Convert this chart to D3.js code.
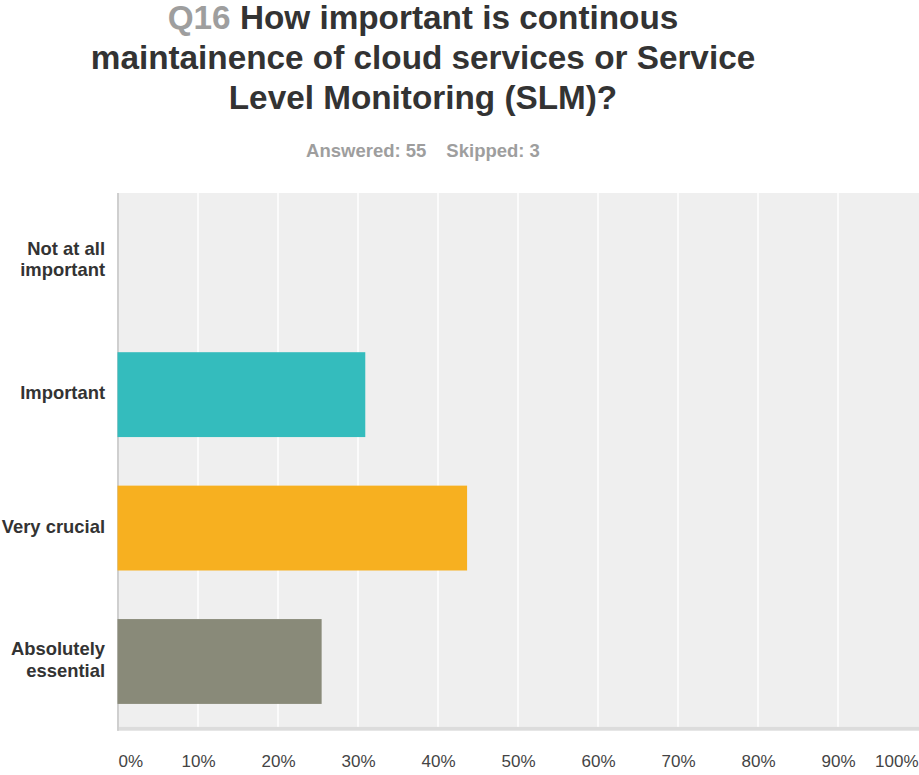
<!DOCTYPE html>
<html>
<head>
<meta charset="utf-8">
<script src="https://cdn.jsdelivr.net/npm/d3@7"></script>
<style>
  html, body { margin: 0; padding: 0; background: #fff; }
  svg { display: block; }
  text { font-family: "Liberation Sans", Arial, Helvetica, sans-serif; }
</style>
</head>
<body>
<svg id="chart" width="919" height="775"></svg>
<script>
// Survey answers (share of respondents, %)
const categories = ["Not at all important", "Important", "Very crucial", "Absolutely essential"];
const categoryLines = [["Not at all", "important"], ["Important"], ["Very crucial"], ["Absolutely", "essential"]];
const responses = [0, 17, 24, 14];
const answered = 55;
const skipped = 3;
const percents = responses.map(r => r / answered * 100);
const barColors = ["#4f8fd0", "#34bcbd", "#f7b020", "#898a79"];
const tickValues = [0, 10, 20, 30, 40, 50, 60, 70, 80, 90, 100];
const titleNumber = "Q16";
const titleLines = ["How important is continous", "maintainence of cloud services or Service", "Level Monitoring (SLM)?"];

const svg = d3.select("#chart");
const plot = { left: 118, right: 918, top: 193, bottom: 726.7 };
const cx = 423;

// Title
const title = svg.append("g").attr("font-weight", "bold").attr("font-size", 33.3).attr("text-anchor", "middle");
const t0 = title.append("text").attr("x", cx).attr("y", 28.5);
t0.append("tspan").attr("fill", "#9e9e9e").text(titleNumber + " ");
t0.append("tspan").attr("fill", "#333").text(titleLines[0]);
title.append("text").attr("x", cx).attr("y", 68.5).attr("fill", "#333").text(titleLines[1]);
title.append("text").attr("x", cx).attr("y", 108.5).attr("fill", "#333").text(titleLines[2]);

const sub = svg.append("text").attr("x", cx).attr("y", 157).attr("text-anchor", "middle")
  .attr("font-size", 18.5).attr("font-weight", "bold").attr("fill", "#9e9e9e");
sub.append("tspan").text("Answered: " + answered);
sub.append("tspan").attr("dx", 20).text("Skipped: " + skipped);

// Scales
const x = d3.scaleLinear().domain([0, 100]).range([plot.left, plot.right]);
const y = d3.scaleBand().domain(categories).range([194.5, 728.2])
  .paddingInner(0.364).paddingOuter(0.182);

// Plot background
svg.append("rect").attr("x", plot.left).attr("y", plot.top)
  .attr("width", 919 - plot.left).attr("height", plot.bottom - plot.top).attr("fill", "#efefef");

// Bottom baseline band
svg.append("rect").attr("x", plot.left - 1).attr("y", plot.bottom)
  .attr("width", 919 - plot.left + 1).attr("height", 4).attr("fill", "#dcdcdc");

// Vertical gridlines
svg.append("g").selectAll("line").data(tickValues.filter(v => v > 0 && v < 100)).join("line")
  .attr("x1", d => x(d)).attr("x2", d => x(d))
  .attr("y1", plot.top).attr("y2", plot.bottom)
  .attr("stroke", "#ffffff").attr("stroke-width", 1.5);

// Left axis line
svg.append("line").attr("x1", plot.left).attr("x2", plot.left)
  .attr("y1", plot.top).attr("y2", plot.bottom + 4)
  .attr("stroke", "#cfcfcf").attr("stroke-width", 2);

// Bars (zero-valued answers draw nothing)
svg.append("g").selectAll("rect").data(categories.filter((d, i) => percents[i] > 0)).join("rect")
  .attr("x", x(0) - 0.5)
  .attr("y", d => y(d))
  .attr("width", d => x(percents[categories.indexOf(d)]) - x(0) + 0.5)
  .attr("height", y.bandwidth())
  .attr("fill", d => barColors[categories.indexOf(d)]);

// Category labels
const labels = svg.append("g").attr("font-size", 18.4).attr("font-weight", "bold")
  .attr("fill", "#333").attr("text-anchor", "end");
categories.forEach((c, i) => {
  const lines = categoryLines[i];
  const mid = y(c) + y.bandwidth() / 2 + 4.5;
  const lh = 21.5;
  const t = labels.append("text");
  lines.forEach((ln, j) => {
    t.append("tspan").attr("x", 105)
      .attr("y", mid + (j - (lines.length - 1) / 2) * lh)
      .text(ln);
  });
});

// X axis tick labels
const xAxis = d3.axisBottom(x).tickValues(tickValues).tickFormat(d => d + "%").tickSize(0).tickPadding(0);
const ax = svg.append("g").attr("transform", `translate(0, 766.5)`).call(xAxis);
ax.select(".domain").remove();
ax.selectAll("text")
  .attr("dy", 0).attr("y", 0)
  .attr("font-size", 17).attr("fill", "#444")
  .attr("font-family", "\"Liberation Sans\", Arial, sans-serif")
  .attr("text-anchor", d => d === 0 ? "start" : d === 100 ? "end" : "middle");
</script>
</body>
</html>
